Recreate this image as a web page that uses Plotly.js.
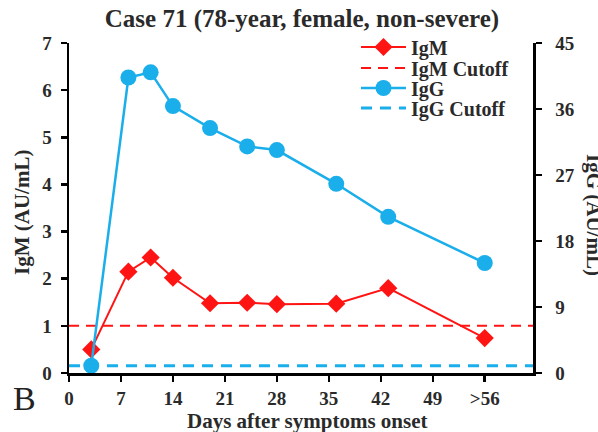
<!DOCTYPE html>
<html>
<head>
<meta charset="utf-8">
<script src="https://cdn.plot.ly/plotly-3.0.1.min.js"></script>
<style>
html,body{margin:0;padding:0;background:#fff;}
#chart{width:598px;height:432px;}
</style>
</head>
<body>
<div id="chart"></div>
<script>
// Data
var days = [3, 8, 11, 14, 19, 24, 28, 36, 43, 56];
var igm = [0.5, 2.15, 2.45, 2.02, 1.48, 1.49, 1.46, 1.47, 1.8, 0.74];
var igg = [1.0, 40.3, 41.0, 36.4, 33.4, 30.9, 30.4, 25.8, 21.3, 15.0];
var igmCutoff = 1.0;
var iggCutoff = 1.0;
var xTickVals = [0, 7, 14, 21, 28, 35, 42, 49, 56];
var xTickText = ['0', '7', '14', '21', '28', '35', '42', '49', '>56'];
var xRange = [0, 62.5];

var RED = '#ff1414';
var BLUE = '#1aaeea';
var FONT = 'Liberation Serif, Times New Roman, serif';
var TXT = '#2a2a2a';

var traces = [
  {x: days, y: igm, name: 'IgM', type: 'scatter', mode: 'lines+markers', legend: 'legend',
   line: {color: RED, width: 2}, marker: {symbol: 'diamond', size: 14, color: RED}, yaxis: 'y'},
  {x: xRange, y: [igmCutoff, igmCutoff], name: 'IgM Cutoff', type: 'scatter', mode: 'lines', legend: 'legend2',
   line: {color: RED, width: 2, dash: '10px,7px'}, yaxis: 'y'},
  {x: days, y: igg, name: 'IgG', type: 'scatter', mode: 'lines+markers', legend: 'legend3',
   line: {color: BLUE, width: 2.5}, marker: {symbol: 'circle', size: 16, color: BLUE}, yaxis: 'y2'},
  {x: xRange, y: [iggCutoff, iggCutoff], name: 'IgG Cutoff', type: 'scatter', mode: 'lines', legend: 'legend4',
   line: {color: BLUE, width: 3, dash: '11px,8px'}, yaxis: 'y2'}
];

var tickFont = {family: FONT, size: 19, color: TXT, weight: 'bold'};
var axisCommon = {
  showline: true, linecolor: '#000', linewidth: 2.5, ticks: 'outside', ticklen: 6, tickwidth: 2.5,
  tickcolor: '#000', showgrid: false, zeroline: false, tickfont: tickFont
};

function leg(yPx) {
  return {x: 0.6185, y: (373 - yPx) / 330, xanchor: 'left', yanchor: 'middle', bgcolor: 'rgba(0,0,0,0)',
          font: {family: FONT, size: 20, color: TXT, weight: 'bold'}, itemwidth: 45,
          borderwidth: 0};
}

var layout = {
  width: 598, height: 432,
  margin: {l: 69, r: 65, t: 43, b: 59},
  paper_bgcolor: '#fff', plot_bgcolor: '#fff',
  title: {text: 'Case 71 (78-year, female, non-severe)', x: 0.505, xanchor: 'center', y: 0.958, yanchor: 'middle',
          font: {family: FONT, size: 25, color: TXT, weight: 'bold'}},
  xaxis: Object.assign({}, axisCommon, {
    range: xRange, tickmode: 'array', tickvals: xTickVals, ticktext: xTickText, ticklabelstandoff: 1
  }),
  yaxis: Object.assign({}, axisCommon, {
    range: [0, 7], dtick: 1, tick0: 0, ticklabelstandoff: 5
  }),
  yaxis2: Object.assign({}, axisCommon, {
    range: [0, 45], dtick: 9, tick0: 0, overlaying: 'y', side: 'right', ticklabelstandoff: 10
  }),
  showlegend: true,
  legend: leg(47),
  legend2: leg(68),
  legend3: leg(88),
  legend4: leg(108),
  annotations: [
    {text: 'Days after symptoms onset', xref: 'paper', yref: 'paper', x: (307 - 69) / 464, y: (373 - 421) / 330,
     showarrow: false, font: {family: FONT, size: 21, color: TXT, weight: 'bold'}, xanchor: 'center', yanchor: 'middle'},
    {text: 'IgM (AU/mL)', xref: 'paper', yref: 'paper', x: (22 - 69) / 464, y: (373 - 213) / 330, textangle: -90,
     showarrow: false, font: {family: FONT, size: 21, color: TXT, weight: 'bold'}, xanchor: 'center', yanchor: 'middle'},
    {text: 'IgG (AU/mL)', xref: 'paper', yref: 'paper', x: (594 - 69) / 464, y: (373 - 215) / 330, textangle: 90,
     showarrow: false, font: {family: FONT, size: 21, color: TXT, weight: 'bold'}, xanchor: 'center', yanchor: 'middle'},
    {text: 'B', xref: 'paper', yref: 'paper', x: (24 - 69) / 464, y: (373 - 398) / 330, showarrow: false,
     font: {family: FONT, size: 34, color: '#222'}, xanchor: 'center', yanchor: 'middle'}
  ]
};

Plotly.newPlot('chart', traces, layout, {displayModeBar: false, staticPlot: true});
</script>
</body>
</html>
